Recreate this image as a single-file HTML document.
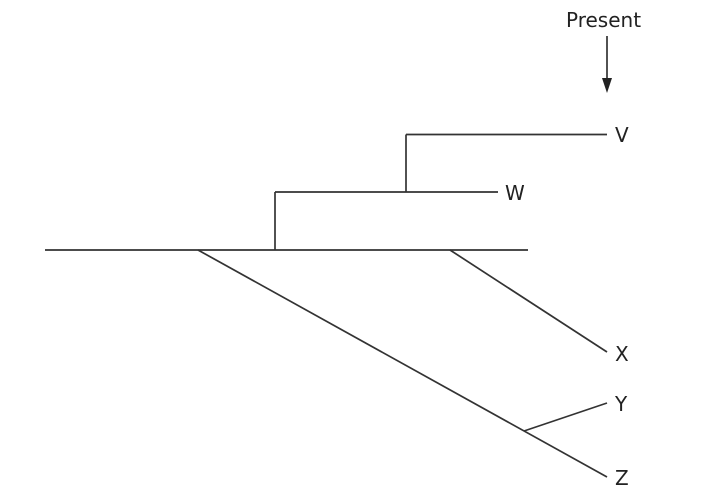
<!DOCTYPE html>
<html><head><meta charset="utf-8"><style>
html,body{margin:0;padding:0;background:#fff;width:715px;height:493px;overflow:hidden}
text{font-family:"DejaVu Sans","Liberation Sans",sans-serif;font-size:20px;fill:#222}
</style></head><body>
<svg width="715" height="493" viewBox="0 0 715 493" xmlns="http://www.w3.org/2000/svg">
<g stroke="#333" stroke-width="1.7" fill="none">
<line x1="45" y1="250" x2="528" y2="250"/>
<line x1="275" y1="250" x2="275" y2="192"/>
<line x1="275" y1="192" x2="498" y2="192"/>
<line x1="406" y1="192" x2="406" y2="134.5"/>
<line x1="406" y1="134.5" x2="607" y2="134.5"/>
<line x1="450" y1="250" x2="607" y2="352"/>
<line x1="198" y1="250" x2="607" y2="477"/>
<line x1="524" y1="431" x2="607" y2="403"/>
<line x1="607" y1="36" x2="607" y2="80"/>
</g>
<polygon points="602,78 612,78 607,93" fill="#222"/>
<text x="566" y="27">Present</text>
<text x="615" y="142">V</text>
<text x="505" y="200">W</text>
<text x="615" y="361">X</text>
<text x="615" y="411">Y</text>
<text x="615" y="485">Z</text>
</svg>
</body></html>
